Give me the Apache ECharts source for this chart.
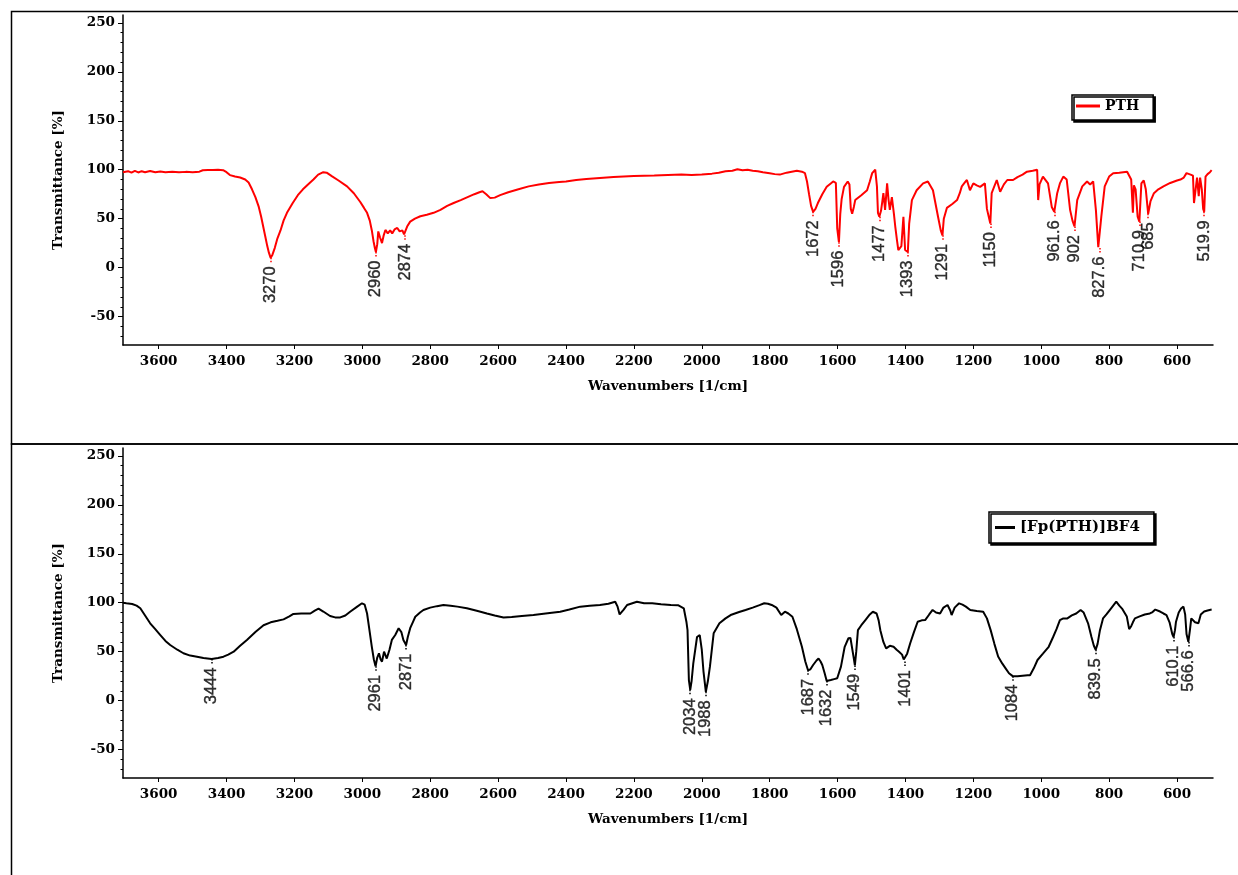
<!DOCTYPE html>
<html>
<head>
<meta charset="utf-8">
<title>FTIR spectra: PTH and [Fp(PTH)]BF4</title>
<script src="https://cdn.jsdelivr.net/npm/echarts@6.0.0/dist/echarts.min.js"></script>
<style>
  html, body { margin: 0; padding: 0; background: #fff; }
  #chart { width: 1238px; height: 875px; }
</style>
</head>
<body>
<div id="chart"></div>
<script>
// Wavenumber axis ticks (1/cm) and transmittance ticks (%)
const xTicks = [3600, 3400, 3200, 3000, 2800, 2600, 2400, 2200, 2000, 1800, 1600, 1400, 1200, 1000, 800, 600];
const yTicks = [-50, 0, 50, 100, 150, 200, 250];
const yMinorTicks = [-70, -60, -40, -30, -20, -10, 10, 20, 30, 40, 60, 70, 80, 90, 110, 120, 130, 140, 160, 170, 180, 190, 210, 220, 230, 240];

const seriesNames = ['PTH', '[Fp(PTH)]BF4'];

// PTH spectrum: [wavenumber, transmittance %]
const pthSpectrum = [
  [3705,97.5],[3690,98.5],[3680,97],[3670,98.8],[3660,97.2],[3650,98.5],[3640,97.5],[3625,98.6],[3610,97.4],
  [3595,98.2],[3580,97.5],[3560,98],[3540,97.3],[3520,97.8],[3500,97.5],[3480,98],[3470,99.5],[3455,99.8],
  [3440,99.8],[3425,100],[3410,99.5],[3400,97.5],[3390,94.5],[3375,93],[3360,92],[3345,90],[3335,87],[3325,80],
  [3315,72],[3305,62],[3298,52],[3292,42],[3286,32],[3280,22],[3275,15],[3270,10],[3265,13],[3258,20],[3250,30],
  [3241,38],[3232,48],[3222,56],[3205,66],[3190,74],[3175,80],[3160,85],[3144,90],[3130,95],[3115,97.5],[3105,97],
  [3090,93.5],[3070,89],[3045,83],[3025,76],[3006,67],[2995,61],[2986,56],[2978,48],[2972,38],[2967,27],[2963,20],
  [2960,16],[2956,24],[2953,37],[2948,31],[2942,25],[2937,33],[2932,38.5],[2925,35],[2918,38],[2912,35],[2905,39],
  [2897,40.5],[2890,37],[2882,38],[2877,34],[2874,33],[2868,42],[2859,47],[2845,50],[2829,52.5],[2810,54],[2790,56],
  [2770,59],[2750,63],[2731,66],[2710,69],[2690,72],[2670,75],[2655,77],[2646,78],[2635,75],[2623,71],[2610,71.5],
  [2594,74],[2570,77],[2540,80],[2510,83],[2480,85],[2450,86.5],[2420,87.5],[2400,88],[2370,89.5],[2340,90.5],
  [2300,91.5],[2260,92.5],[2230,93],[2200,93.5],[2170,93.8],[2140,94],[2100,94.5],[2060,95],[2030,94.6],[2000,95],
  [1970,96],[1950,97],[1930,98.5],[1910,99],[1895,100.5],[1880,99.5],[1865,100],[1850,99],[1835,98.5],[1820,97.5],
  [1800,96.5],[1785,95.5],[1770,95],[1750,97],[1735,98],[1720,99],[1705,98],[1696,96.5],[1690,88],[1684,75],
  [1678,63],[1672,57],[1665,60],[1658,66],[1645,75],[1632,82.5],[1620,86],[1613,88],[1605,86.5],[1601,40],
  [1596,26],[1592,55],[1588,70],[1581,82.5],[1570,88],[1565,85],[1561,60],[1557,55],[1552,62],[1548,69],[1530,74],
  [1513,79],[1505,88],[1498,96.5],[1489,100],[1484,83],[1481,56],[1477,52],[1472,58],[1468,68],[1465,76],[1460,59],
  [1454,86],[1450,70],[1446,59],[1440,72],[1434,55],[1430,42],[1425,28],[1421,18],[1416,18],[1412,22],[1406,52],
  [1401,18],[1397,20],[1393,16],[1389,45],[1381,69],[1367,79],[1348,86],[1334,88],[1319,79],[1304,52],[1296,38],
  [1291,33],[1287,50],[1278,61],[1262,65],[1248,69],[1240,76],[1234,83],[1225,87],[1219,89.5],[1210,79],[1200,86],
  [1190,84],[1180,82.5],[1166,86],[1160,60],[1150,45],[1146,76],[1131,89.5],[1121,77.5],[1110,85],[1100,89.5],
  [1083,89.5],[1070,92.5],[1055,95],[1042,98],[1025,99],[1012,100],[1009,69],[1005,85],[995,93],[980,86],[969,62],
  [961.6,57],[953,76],[945,86],[935,93],[925,90],[915,59],[908,48],[902,42],[894,69],[879,83],[865,88],[856,85],
  [847,88],[839,59],[832,21],[827.6,20],[823,52],[813,83],[800,93],[788,96.5],[770,97],[747,98],[735,90],[730,56],
  [727,84],[722,80],[716,52],[710.9,47],[705,86],[698,89],[692,80],[685,55],[678,68],[668,76],[655,80],[640,83],
  [620,86.5],[600,89],[590,90],[580,92],[572,96.5],[560,95],[553,94],[550,66],[545,64],[541,92],[536,73],[532,92],
  [527,80],[523,60],[519.9,57],[516,93],[510,95.5],[503,97.5],[498,99.5]
];

// [Fp(PTH)]BF4 spectrum: [wavenumber, transmittance %]
const fpSpectrum = [
  [3705,100],[3695,99.5],[3690,101],[3678,98.7],[3665,97],[3654,94.3],[3640,87],[3625,79],[3610,73],[3595,67],
  [3580,61],[3566,56.8],[3545,52],[3527,48.4],[3507,46],[3487,44.9],[3468,43.5],[3444,42.5],[3425,43.5],[3409,44.9],
  [3395,47],[3379,50],[3360,56],[3340,62],[3315,70],[3291,77],[3270,80],[3250,81.5],[3232,83],[3215,86],[3203,88.5],
  [3180,89],[3153,89],[3140,92],[3129,94],[3115,91],[3095,86.4],[3080,85],[3065,85],[3050,87],[3036,90.8],[3015,96],
  [3001,99.4],[2993,98],[2986,89],[2979,72],[2972,55],[2966,42],[2961,35],[2956,44],[2951,48.4],[2946,42],
  [2942,39.8],[2936,50],[2932,48],[2928,43],[2920,52],[2913,62],[2903,67],[2893,73.9],[2885,70],[2879,62],
  [2871,56.8],[2866,65],[2859,74],[2850,81],[2844,85.7],[2830,90],[2820,92.6],[2800,95],[2780,96.5],[2761,97.7],
  [2740,97],[2720,96],[2692,94.3],[2660,91.5],[2633,89],[2610,87],[2584,85],[2560,85.5],[2530,86.5],[2496,87.4],
  [2460,89],[2417,90.8],[2390,93],[2358,96],[2330,97],[2300,97.7],[2275,99],[2255,101],[2248,96],[2242,88],
  [2238,87.4],[2230,93],[2220,97.7],[2200,100],[2191,101],[2170,99.5],[2146,99.4],[2120,98.5],[2091,97.7],
  [2070,97.5],[2053,94.3],[2045,80],[2042,72],[2038,21],[2034,11],[2030,20],[2025,38],[2014,65],[2006,67],
  [2000,52],[1995,30],[1988,9],[1982,20],[1976,34.7],[1965,68.8],[1948,79],[1930,84],[1915,87.4],[1890,90.5],
  [1871,92.6],[1850,95],[1830,97.5],[1816,99.4],[1805,99],[1794,97.7],[1780,95],[1766,87.4],[1755,90.8],[1745,89],
  [1733,85.7],[1720,73],[1705,55],[1695,40],[1687,31],[1680,32],[1672,36.4],[1662,41],[1656,43],[1650,40],
  [1645,36.4],[1638,28],[1632,20],[1620,21],[1610,22],[1601,22.8],[1590,34.7],[1579,55],[1568,63.7],[1562,64],
  [1557,62],[1553,45],[1549,36],[1545,50],[1540,72],[1530,77],[1518,82.3],[1505,88],[1496,90.8],[1485,89],
  [1479,82],[1474,72],[1465,60],[1457,53.4],[1446,56],[1435,55],[1426,52],[1419,50],[1410,47],[1405,42],[1401,40],
  [1395,48],[1386,58.6],[1375,70],[1364,80.6],[1352,82],[1342,82.3],[1330,88],[1320,92.6],[1310,90],[1298,89],
  [1288,95],[1276,97.7],[1268,92],[1264,87.4],[1255,95],[1242,99.4],[1232,98],[1222,96],[1209,92.6],[1190,91.5],
  [1171,90.8],[1160,84],[1149,72],[1138,58],[1127,45],[1115,38],[1105,33],[1095,28],[1084,25],[1070,25],
  [1055,25.5],[1040,26],[1033,26],[1022,33],[1011,41.5],[995,48],[978,55],[965,65],[955,73],[945,82.3],[935,84],
  [923,84],[910,87],[897,89],[884,92.6],[875,90],[862,79],[852,65],[845,56],[839.5,52],[834,58],[827,72],[818,84],
  [808,88],[797,93],[788,97],[779,101],[770,97],[762,94],[757,92.6],[748,86],[741,73],[735,76],[730,80],[724,84],
  [710,86],[695,88],[680,89],[672,90.5],[664,93],[650,91],[640,89],[631,87.4],[622,80],[614,68],[610.1,65],
  [606,72],[603,80.6],[595,90],[588,94],[581,96],[576,88],[572,68],[566.6,60],[562,72],[558,84],[553,85.7],
  [547,80],[542,82],[537,79],[530,88],[520,91],[510,92],[504,92.6],[498,93]
];

// Labelled absorption bands: [wavenumber, transmittance at band minimum]
const pthPeaks = [
  [3270,10],[2960,16],[2874,33],[1672,57],[1596,26],[1477,52],[1393,16],[1291,33],[1150,45],
  [961.6,57],[902,42],[827.6,20],[710.9,47],[685,55],[519.9,57]
];
const fpPeaks = [
  [3444,42.5],[2961,35],[2871,56.8],[2034,11],[1988,9],[1687,31],[1632,20],[1549,36],[1401,40],
  [1084,25],[839.5,52],[610.1,65],[566.6,60]
];

const colors = ['#ff0000', '#000000'];
const serifBold = { fontFamily: 'DejaVu Serif', fontWeight: 'bold', color: '#000' };
const X_MIN = 494, X_MAX = 3705, Y_MIN = -79, Y_MAX = 258;
const LEADER = 6; // length of the dotted leader under each band, in % units
const plain = v => String(v);

function makeXAxis(gridIndex) {
  return {
    type: 'value', gridIndex, inverse: true, min: X_MIN, max: X_MAX,
    name: 'Wavenumbers [1/cm]', nameLocation: 'middle', nameGap: 34,
    nameTextStyle: Object.assign({ fontSize: 13.5 }, serifBold),
    axisLine: { show: true, onZero: false, lineStyle: { color: '#000', width: 1.5 } },
    axisTick: { show: true, length: 4, customValues: xTicks, lineStyle: { color: '#000', width: 1 } },
    axisLabel: Object.assign({ fontSize: 13.5, margin: 9, customValues: xTicks, formatter: plain }, serifBold),
    splitLine: { show: false }
  };
}
function makeYAxes(gridIndex) {
  return [{
    type: 'value', gridIndex, min: Y_MIN, max: Y_MAX,
    name: 'Transmittance [%]', nameLocation: 'middle', nameGap: 58, nameRotate: 90,
    nameTextStyle: Object.assign({ fontSize: 13.5 }, serifBold),
    axisLine: { show: true, onZero: false, lineStyle: { color: '#000', width: 1.5 } },
    axisTick: { show: true, length: 5, customValues: yTicks, lineStyle: { color: '#000', width: 1 } },
    axisLabel: Object.assign({ fontSize: 13.5, margin: 8, customValues: yTicks, formatter: plain }, serifBold),
    splitLine: { show: false }
  }, {
    type: 'value', gridIndex, min: Y_MIN, max: Y_MAX, position: 'left', offset: 0,
    axisLine: { show: false },
    axisTick: { show: true, length: 2.5, customValues: yMinorTicks, lineStyle: { color: '#000', width: 1 } },
    axisLabel: { show: false },
    splitLine: { show: false }
  }];
}

function spectrumSeries(name, data, idx) {
  return {
    name, type: 'line', data, xAxisIndex: idx, yAxisIndex: idx * 2,
    showSymbol: false, symbol: 'none', color: colors[idx],
    lineStyle: { color: colors[idx], width: 2 }, silent: true, z: 3
  };
}
function peakSeries(peaks, idx) {
  return {
    name: 'bands' + idx, type: 'scatter', xAxisIndex: idx, yAxisIndex: idx * 2,
    data: peaks, symbolSize: 1, itemStyle: { color: 'rgba(0,0,0,0)' }, silent: true, z: 4,
    label: {
      show: true, position: 'bottom', distance: 8, rotate: 90, align: 'right', verticalAlign: 'middle',
      formatter: p => String(p.value[0]),
      fontFamily: 'Liberation Sans', fontSize: 16.5, color: '#000',
      textBorderColor: '#000', textBorderWidth: 0.4
    },
    markLine: {
      silent: true, symbol: ['none', 'none'], label: { show: false },
      lineStyle: { type: 'dotted', color: colors[idx], width: 1.5 },
      emphasis: { disabled: true },
      data: peaks.map(p => [{ coord: [p[0], p[1]] }, { coord: [p[0], p[1] - LEADER] }])
    }
  };
}

function legendBox(name, left, top, padding, itemWidth, fontSize) {
  return {
    data: [name], left, top, orient: 'horizontal', padding,
    icon: 'rect', itemWidth, itemHeight: 3,
    backgroundColor: '#fff', borderColor: '#000', borderWidth: 1.5, borderRadius: 0,
    shadowColor: '#000', shadowOffsetX: 2, shadowOffsetY: 2, shadowBlur: 0,
    textStyle: Object.assign({ fontSize }, serifBold),
    selectedMode: false
  };
}

const chart = echarts.init(document.getElementById('chart'), null, { renderer: 'canvas' });
chart.setOption({
  animation: false,
  backgroundColor: '#fff',
  graphic: [
    { type: 'rect', shape: { x: 11.5, y: 11.5, width: 1300, height: 432.5 }, style: { fill: 'none', stroke: '#000', lineWidth: 1.5 }, silent: true },
    { type: 'rect', shape: { x: 11.5, y: 444, width: 1300, height: 500 }, style: { fill: 'none', stroke: '#000', lineWidth: 1.5 }, silent: true }
  ],
  legend: [
    legendBox(seriesNames[0], 1072, 95, [4, 14, 7, 4], 24, 14),
    legendBox(seriesNames[1], 989, 512, [8, 14, 8, 6], 20, 15)
  ],
  grid: [
    { left: 123, top: 15, width: 1090, height: 330 },
    { left: 123, top: 448, width: 1090, height: 330 }
  ],
  xAxis: [makeXAxis(0), makeXAxis(1)],
  yAxis: makeYAxes(0).concat(makeYAxes(1)),
  series: [
    spectrumSeries(seriesNames[0], pthSpectrum, 0),
    spectrumSeries(seriesNames[1], fpSpectrum, 1),
    peakSeries(pthPeaks, 0),
    peakSeries(fpPeaks, 1)
  ]
});
</script>
</body>
</html>
